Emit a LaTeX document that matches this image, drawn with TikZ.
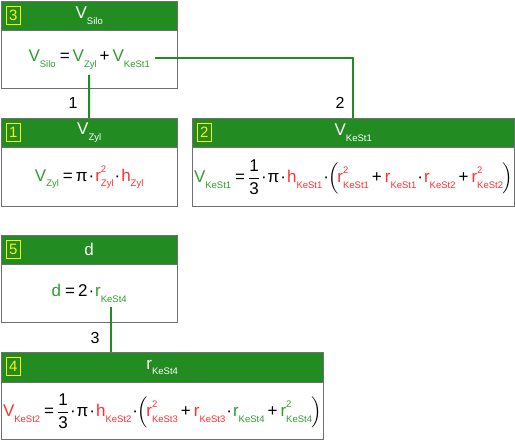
\documentclass[tikz,border=0pt]{standalone}
\usepackage{amsmath}
\usepackage{fontspec}
\setmainfont{Liberation Sans}
\usetikzlibrary{positioning}
\definecolor{hdrgreen}{HTML}{228B22}
\definecolor{vargreen}{HTML}{2E9E2E}
\definecolor{varred}{HTML}{FF3030}
\definecolor{framegray}{HTML}{707070}

\newcommand{\subsz}{\fontsize{9.5}{10}\selectfont}
\newcommand{\vsub}[3]{\textcolor{#1}{#2\raisebox{-0.32em}{\subsz #3}}}
\newcommand{\vsq}[3]{\textcolor{#1}{#2\rlap{\raisebox{0.55em}{\subsz 2}}\raisebox{-0.32em}{\subsz #3}}}
\newcommand{\eqs}{\kern4pt=\kern3pt}
\newcommand{\pls}{\kern3pt+\kern3pt}
\newcommand{\mds}{\kern1pt·\kern1pt}
\newcommand{\third}{$\dfrac{\text{1}}{\text{3}}$}
\newcommand{\lpar}{\kern-2pt$\Bigl($\kern-1pt}
\newcommand{\rpar}{\kern-1pt$\Bigr)$}

\begin{document}
\begin{tikzpicture}[
  hdr/.style={draw=framegray,fill=hdrgreen,text=white,minimum height=29,anchor=north west,inner sep=0pt,font=\fontsize{17}{19}\selectfont},
  body/.style={draw=framegray,fill=white,anchor=north west,inner sep=0pt,font=\fontsize{17}{19}\selectfont},
  num/.style={draw=yellow,text=yellow,minimum width=14,minimum height=18,inner sep=0pt,anchor=north west,font=\fontsize{15}{17}\selectfont},
  link/.style={draw=hdrgreen,line width=2},
  lbl/.style={font=\fontsize{16}{18}\selectfont},
  x=1pt,y=-1pt]
\useasboundingbox (0,0) rectangle (515,441);

% box 3: V_Silo
\node[hdr,minimum width=176] (h3) at (1,1) {\vsub{white}{V}{Silo}};
\node[body,minimum width=176,minimum height=58] (b3) at (h3.south west)
  {\vsub{vargreen}{V}{Silo}\eqs\vsub{vargreen}{V}{Zyl}\pls\vsub{vargreen}{V}{KeSt1}};
\node[num] (n3) at ([shift={(5,5)}]h3.north west) {3};

% box 1: V_Zyl
\node[hdr,minimum width=176] (h1) at (1,118) {\vsub{white}{V}{Zyl}};
\node[body,minimum width=176,minimum height=59] (b1) at (h1.south west)
  {\vsub{vargreen}{V}{Zyl}\eqs π\mds\vsq{varred}{r}{Zyl}\mds\vsub{varred}{h}{Zyl}};
\node[num] (n1) at ([shift={(5,5)}]h1.north west) {1};

% box 2: V_KeSt1
\node[hdr,minimum width=322] (h2) at (192,118) {\vsub{white}{V}{KeSt1}};
\node[body,minimum width=322,minimum height=59] (b2) at (h2.south west)
  {\vsub{vargreen}{V}{KeSt1}\eqs\third\mds π\mds\vsub{varred}{h}{KeSt1}\mds\lpar\vsq{varred}{r}{KeSt1}\pls\vsub{varred}{r}{KeSt1}\mds\vsub{varred}{r}{KeSt2}\pls\vsq{varred}{r}{KeSt2}\rpar};
\node[num] (n2) at ([shift={(5,5)}]h2.north west) {2};

% box 5: d
\node[hdr,minimum width=176] (h5) at (1,235) {d};
\node[body,minimum width=176,minimum height=58] (b5) at (h5.south west)
  {\textcolor{vargreen}{d}\eqs 2\mds\vsub{vargreen}{r}{KeSt4}};
\node[num] (n5) at ([shift={(5,5)}]h5.north west) {5};

% box 4: r_KeSt4
\node[hdr,minimum width=322,minimum height=30] (h4) at (1,352) {\vsub{white}{r}{KeSt4}};
\node[body,minimum width=322,minimum height=57] (b4) at (h4.south west)
  {\vsub{varred}{V}{KeSt2}\eqs\third\mds π\mds\vsub{varred}{h}{KeSt2}\mds\lpar\vsq{varred}{r}{KeSt3}\pls\vsub{varred}{r}{KeSt3}\mds\vsub{vargreen}{r}{KeSt4}\pls\vsq{vargreen}{r}{KeSt4}\rpar};
\node[num] (n4) at ([shift={(5,5)}]h4.north west) {4};

% links
\coordinate (zylTap) at (89,75);
\coordinate (keTap) at (155,58);
\coordinate (rTap) at (111,307);
\draw[link] (zylTap) -- (h1.north);
\draw[link] (keTap) -- (keTap -| h2.north) -- (h2.north);
\draw[link] (rTap) -- (rTap |- h4.north);
\node[lbl] (l1) at (73,103) {1};
\node[lbl] (l2) at (340,103) {2};
\node[lbl] (l3) at (95,338) {3};
\end{tikzpicture}
\end{document}
